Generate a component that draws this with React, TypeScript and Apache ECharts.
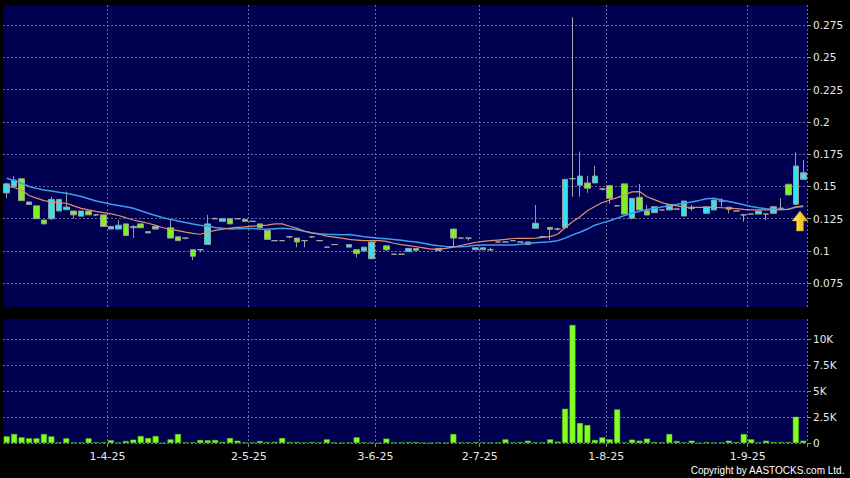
import React, { useEffect, useRef } from "react";
import * as echarts from "echarts";

// ---- data ----
const opens = [
  0.145, 0.150, 0.156, 0.136, 0.135, 0.124, 0.125, 0.131, 0.132, 0.131,
  0.127, 0.131, 0.128, 0.128, 0.117, 0.117, 0.121, 0.118, 0.121, 0.115,
  0.117, null, 0.118, 0.111, 0.110, 0.101, 0.101, 0.105, 0.125, 0.123,
  0.125, 0.125, 0.1245, 0.123, 0.121, 0.116, 0.108, 0.108, 0.111, 0.110,
  0.108, 0.111, 0.108, 0.103, 0.105, null, 0.103, 0.101, 0.100, 0.094,
  null, 0.104, 0.0975, 0.0975, 0.0995, 0.102, null, null, 0.1003, null,
  0.117, 0.110, 0.110, 0.101, 0.101, 0.101, 0.107, 0.107, 0.108, 0.107,
  0.105, 0.1176, 0.111, 0.1183, 0.117, 0.118, 0.156, 0.151, 0.1527, 0.1527,
  0.148, 0.1506, 0.135, 0.152, 0.1253, 0.1416, 0.1312, 0.1297, 0.1318, 0.1318,
  0.1325, 0.1271, 0.1331, null, 0.1292, 0.1318, 0.1387, 0.1339, 0.131, 0.128,
  0.1286, 0.1286, 0.1286, 0.1292, 0.1331, 0.1517, 0.1362, 0.1555,
];
const closes = [
  0.152, 0.155, 0.139, 0.138, 0.125, 0.121, 0.140, 0.140, 0.134, 0.128,
  0.131, 0.128, 0.128, 0.119, 0.119, 0.120, 0.112, 0.119, 0.118, 0.114,
  0.119, null, 0.110, 0.108, 0.110, 0.096, 0.101, 0.121, 0.125, 0.125,
  0.121, 0.125, 0.123, 0.123, 0.118, 0.109, 0.108, 0.108, 0.111, 0.107,
  0.108, 0.111, 0.108, 0.103, 0.105, null, 0.105, 0.098, 0.103, 0.107,
  null, 0.101, 0.0975, 0.0975, 0.102, 0.1005, null, null, 0.102, null,
  0.110, 0.110, 0.110, 0.1025, 0.1025, 0.101, 0.107, 0.107, 0.108, 0.107,
  0.107, 0.1215, 0.111, 0.1168, 0.117, 0.1555, 0.156, 0.158, 0.1486, 0.158,
  0.148, 0.1408, 0.135, 0.1286, 0.1408, 0.1318, 0.1279, 0.1343, 0.1318, 0.1361,
  0.1325, 0.1387, 0.1331, null, 0.1343, 0.1395, 0.1387, 0.1323, 0.131, 0.128,
  0.1286, 0.131, 0.1286, 0.1343, 0.1331, 0.1434, 0.1658, 0.1606,
];
const lows = [
  0.141, 0.150, 0.139, 0.136, 0.125, 0.121, 0.124, 0.131, 0.132, 0.125,
  0.127, 0.128, 0.127, 0.119, 0.117, 0.117, 0.112, 0.110, 0.118, 0.114,
  0.117, null, 0.110, 0.108, 0.109, 0.093, 0.099, 0.105, 0.125, 0.123,
  0.121, 0.125, 0.123, 0.123, 0.118, 0.109, 0.108, 0.108, 0.110, 0.103,
  0.103, 0.110, 0.108, 0.103, 0.105, null, 0.103, 0.095, 0.100, 0.094,
  null, 0.100, 0.0975, 0.0975, 0.0995, 0.1005, null, null, 0.1003, null,
  0.1035, 0.110, 0.108, 0.101, 0.101, 0.100, 0.107, 0.107, 0.108, 0.107,
  0.105, 0.1176, 0.111, 0.1085, 0.116, 0.118, 0.142, 0.142, 0.145, 0.1527,
  0.147, 0.1365, 0.135, 0.1286, 0.1245, 0.1318, 0.1279, 0.1297, 0.1318, 0.1318,
  0.1325, 0.1271, 0.1312, null, 0.1292, 0.1318, 0.1343, 0.1292, 0.131, 0.1227,
  0.1286, 0.1286, 0.124, 0.1292, 0.1331, 0.1434, 0.1355, 0.1555,
];
const highs = [
  0.153, 0.158, 0.156, 0.138, 0.135, 0.124, 0.142, 0.140, 0.146, 0.131,
  0.131, 0.131, 0.128, 0.128, 0.119, 0.124, 0.121, 0.120, 0.121, 0.115,
  0.120, null, 0.124, 0.111, 0.110, 0.101, 0.101, 0.128, 0.126, 0.125,
  0.125, 0.125, 0.1245, 0.123, 0.121, 0.116, 0.108, 0.108, 0.111, 0.110,
  0.108, 0.111, 0.108, 0.103, 0.105, null, 0.105, 0.101, 0.103, 0.107,
  null, 0.104, 0.0975, 0.0975, 0.102, 0.102, null, null, 0.102, null,
  0.117, 0.110, 0.110, 0.1025, 0.1025, 0.1025, 0.107, 0.107, 0.108, 0.107,
  0.107, 0.1356, 0.111, 0.1183, 0.118, 0.1555, 0.281, 0.177, 0.1583, 0.166,
  0.149, 0.1506, 0.135, 0.152, 0.1408, 0.152, 0.1356, 0.1343, 0.1318, 0.1361,
  0.1325, 0.1387, 0.1356, null, 0.1343, 0.1395, 0.1408, 0.1339, 0.131, 0.128,
  0.1286, 0.131, 0.1286, 0.1343, 0.1408, 0.1517, 0.1764, 0.1705,
];
const volumes = [
  640, 865, 545, 450, 450, 865, 640, 60, 450, 50,
  40, 450, 60, 60, 260, 40, 190, 320, 670, 480,
  670, 0, 350, 865, 50, 60, 290, 260, 290, 100,
  480, 220, 50, 40, 190, 80, 100, 480, 80, 80,
  40, 80, 50, 350, 40, 0, 40, 550, 40, 30,
  0, 420, 40, 40, 80, 80, 0, 0, 50, 0,
  865, 50, 50, 80, 50, 40, 40, 350, 40, 80,
  220, 60, 50, 350, 130, 3300, 11375, 1925, 1730, 290,
  545, 350, 3240, 50, 320, 220, 420, 80, 50, 865,
  190, 50, 220, 0, 80, 40, 50, 220, 80, 865,
  350, 50, 220, 80, 80, 80, 2530, 220,
];
const ma10 = [
  0.1500, 0.1492, 0.1470, 0.1430, 0.1410, 0.1390, 0.1380, 0.1375, 0.1370, 0.1350,
  0.1330, 0.1318, 0.1307, 0.1297, 0.1288, 0.1275, 0.1258, 0.1240, 0.1228, 0.1215,
  0.1198, 0.1180, 0.1168, 0.1158, 0.1146, 0.1136, 0.1130, 0.1145, 0.1160, 0.1170,
  0.1178, 0.1183, 0.1187, 0.1192, 0.1196, 0.1200, 0.1210, 0.1210, 0.1192, 0.1175,
  0.1155, 0.1140, 0.1130, 0.1115, 0.1108, 0.1100, 0.1090, 0.1085, 0.1080, 0.1080,
  0.1080, 0.1075, 0.1060, 0.1050, 0.1042, 0.1033, 0.1024, 0.1015, 0.1015, 0.1020,
  0.1030, 0.1043, 0.1055, 0.1068, 0.1075, 0.1080, 0.1085, 0.1090, 0.1097, 0.1098,
  0.1098, 0.1100, 0.1105, 0.1111, 0.1130, 0.1180, 0.1227, 0.1265, 0.1312, 0.1345,
  0.1375, 0.1395, 0.1413, 0.1435, 0.1458, 0.1460, 0.1420, 0.1398, 0.1375, 0.1360,
  0.1350, 0.1340, 0.1338, 0.1338, 0.1338, 0.1338, 0.1335, 0.1332, 0.1328, 0.1322,
  0.1318, 0.1318, 0.1318, 0.1318, 0.1320, 0.1323, 0.1343, 0.1350,
];
const ma20 = [
  0.1563, 0.1545, 0.1525, 0.1500, 0.1485, 0.1473, 0.1465, 0.1455, 0.1447, 0.1435,
  0.1422, 0.1405, 0.1388, 0.1375, 0.1362, 0.1352, 0.1342, 0.1331, 0.1312, 0.1292,
  0.1275, 0.1258, 0.1245, 0.1232, 0.1220, 0.1210, 0.1200, 0.1192, 0.1182, 0.1176,
  0.1171, 0.1172, 0.1175, 0.1174, 0.1170, 0.1168, 0.1172, 0.1176, 0.1172, 0.1165,
  0.1152, 0.1140, 0.1133, 0.1130, 0.1128, 0.1126, 0.1128, 0.1120, 0.1111, 0.1105,
  0.1099, 0.1095, 0.1090, 0.1083, 0.1076, 0.1070, 0.1060, 0.1048, 0.1040, 0.1034,
  0.1033, 0.1033, 0.1036, 0.1044, 0.1047, 0.1047, 0.1047, 0.1047, 0.1047, 0.1052,
  0.1058, 0.1064, 0.1068, 0.1072, 0.1080, 0.1100, 0.1125, 0.1145, 0.1170, 0.1200,
  0.1218, 0.1235, 0.1255, 0.1275, 0.1292, 0.1308, 0.1322, 0.1330, 0.1340, 0.1350,
  0.1360, 0.1370, 0.1380, 0.1392, 0.1405, 0.1408, 0.1395, 0.1383, 0.1372, 0.1358,
  0.1345, 0.1335, 0.1328, 0.1323, 0.1322, 0.1323, 0.1338, 0.1345,
];
const priceTicks = [0.075, 0.1, 0.125, 0.15, 0.175, 0.2, 0.225, 0.25, 0.275];
const volumeTicks = [0, 2500, 5000, 7500, 10000];
const volumeTickLabels = ["0", "2.5K", "5K", "7.5K", "10K"];
const dateTickIndex = [14, 33, 50, 64, 81, 100];
const dateTickLabels = ["1-4-25", "2-5-25", "3-6-25", "2-7-25", "1-8-25", "1-9-25"];
const copyrightText = "Copyright by AASTOCKS.com Ltd.";

// ---- styles ----
const NAVY = "#000050";
const CYAN = "#2ee4f4";
const GREEN = "#80f020";
const WICK = "#9a9a9a";
const GRIDLINE = { color: "#6a6a9c", type: [2, 2] as number[], width: 1 };
const LABEL_FONT = "DejaVu Sans";

export default function App() {
  const ref = useRef<HTMLDivElement>(null);

  useEffect(() => {
    if (!ref.current) return;
    const chart = echarts.init(ref.current, undefined, { renderer: "svg" });
    const categories = opens.map((_, i) => String(i));
    const candleData = opens.map((o, i) =>
      o == null ? "-" : [o, closes[i], lows[i], highs[i]]
    );
    const isDateTick = (i: number) => dateTickIndex.indexOf(i) >= 0;

    const option: any = {
      animation: false,
      backgroundColor: "#000000",
      grid: [
        { left: 3, top: 5, width: 804, height: 302, show: true, backgroundColor: NAVY, borderWidth: 0 },
        { left: 3, top: 319, width: 804, height: 124, show: true, backgroundColor: NAVY, borderWidth: 0 },
      ],
      xAxis: [
        {
          type: "category",
          gridIndex: 0,
          data: categories,
          boundaryGap: true,
          axisLine: { show: false },
          axisTick: { show: false },
          axisLabel: { show: false },
          splitLine: { show: true, interval: (i: number) => isDateTick(i), lineStyle: GRIDLINE },
        },
        {
          type: "category",
          gridIndex: 1,
          data: categories,
          boundaryGap: true,
          axisLine: { show: false },
          axisTick: {
            show: true,
            interval: (i: number) => isDateTick(i),
            length: 4,
            lineStyle: { color: "#8a8a8a" },
          },
          axisLabel: {
            show: true,
            interval: (i: number) => isDateTick(i),
            formatter: (v: string) => {
              const k = dateTickIndex.indexOf(Number(v));
              return k >= 0 ? dateTickLabels[k] : "";
            },
            color: "#e8e8e8",
            fontFamily: LABEL_FONT,
            fontSize: 11,
            margin: 8,
            padding: [0, 7, 0, 0],
          },
          splitLine: { show: true, interval: (i: number) => isDateTick(i), lineStyle: GRIDLINE },
        },
      ],
      yAxis: [
        {
          type: "value",
          gridIndex: 0,
          position: "right",
          min: 0.05665,
          max: 0.2905,
          axisLine: { show: false },
          axisTick: { show: true, length: 4, customValues: priceTicks, lineStyle: { color: "#8a8a8a" } },
          axisLabel: {
            customValues: priceTicks,
            formatter: (v: number) => String(parseFloat(Number(v).toFixed(3))),
            color: "#e8e8e8",
            fontFamily: LABEL_FONT,
            fontSize: 10.5,
            margin: 6,
          },
          splitLine: { show: true, lineStyle: GRIDLINE },
        },
        {
          type: "value",
          gridIndex: 1,
          position: "right",
          min: 0,
          max: 11950,
          axisLine: { show: false },
          axisTick: { show: true, length: 4, customValues: volumeTicks, lineStyle: { color: "#8a8a8a" } },
          axisLabel: {
            customValues: volumeTicks,
            formatter: (v: number) => {
              const k = volumeTicks.indexOf(Number(v));
              return k >= 0 ? volumeTickLabels[k] : "";
            },
            color: "#e8e8e8",
            fontFamily: LABEL_FONT,
            fontSize: 10.5,
            margin: 6,
          },
          splitLine: { show: true, lineStyle: GRIDLINE },
        },
      ],
      series: [
        {
          type: "candlestick",
          xAxisIndex: 0,
          yAxisIndex: 0,
          data: candleData,
          barWidth: "80%",
          itemStyle: {
            color: CYAN,
            color0: GREEN,
            borderColor: WICK,
            borderColor0: WICK,
            borderColorDoji: "#a8a8a8",
            borderWidth: 1,
          },
        },
        {
          type: "line",
          xAxisIndex: 0,
          yAxisIndex: 0,
          data: ma20,
          showSymbol: false,
          symbol: "none",
          lineStyle: { color: "#3c9cf0", width: 1.5 },
        },
        {
          type: "line",
          xAxisIndex: 0,
          yAxisIndex: 0,
          data: ma10,
          showSymbol: false,
          symbol: "none",
          lineStyle: { color: "#e0906c", width: 1.2 },
        },
        {
          type: "bar",
          xAxisIndex: 1,
          yAxisIndex: 1,
          data: volumes,
          barWidth: "80%",
          itemStyle: { color: "#80ff20", borderColor: "#5cc018", borderWidth: 0.5 },
        },
      ],
      graphic: [
        {
          type: "polygon",
          shape: {
            points: [
              [800, 211], [808, 221], [803.5, 221], [803.5, 231],
              [796.5, 231], [796.5, 221], [792, 221],
            ],
          },
          style: {
            fill: new echarts.graphic.LinearGradient(0, 0, 1, 0, [
              { offset: 0, color: "#fff27a" },
              { offset: 1, color: "#e8a400" },
            ]),
            stroke: "#c08000",
            lineWidth: 0.5,
          },
          z: 100,
        },
        {
          type: "text",
          right: 5,
          top: 465,
          style: {
            text: copyrightText,
            fill: "#ffffff",
            font: '10px "Liberation Sans", "DejaVu Sans"',
          },
        },
      ],
    };
    chart.setOption(option);
    return () => chart.dispose();
  }, []);

  return (
    <div
      ref={ref}
      style={{ position: "fixed", left: 0, top: 0, width: 850, height: 478, background: "#000" }}
    />
  );
}
